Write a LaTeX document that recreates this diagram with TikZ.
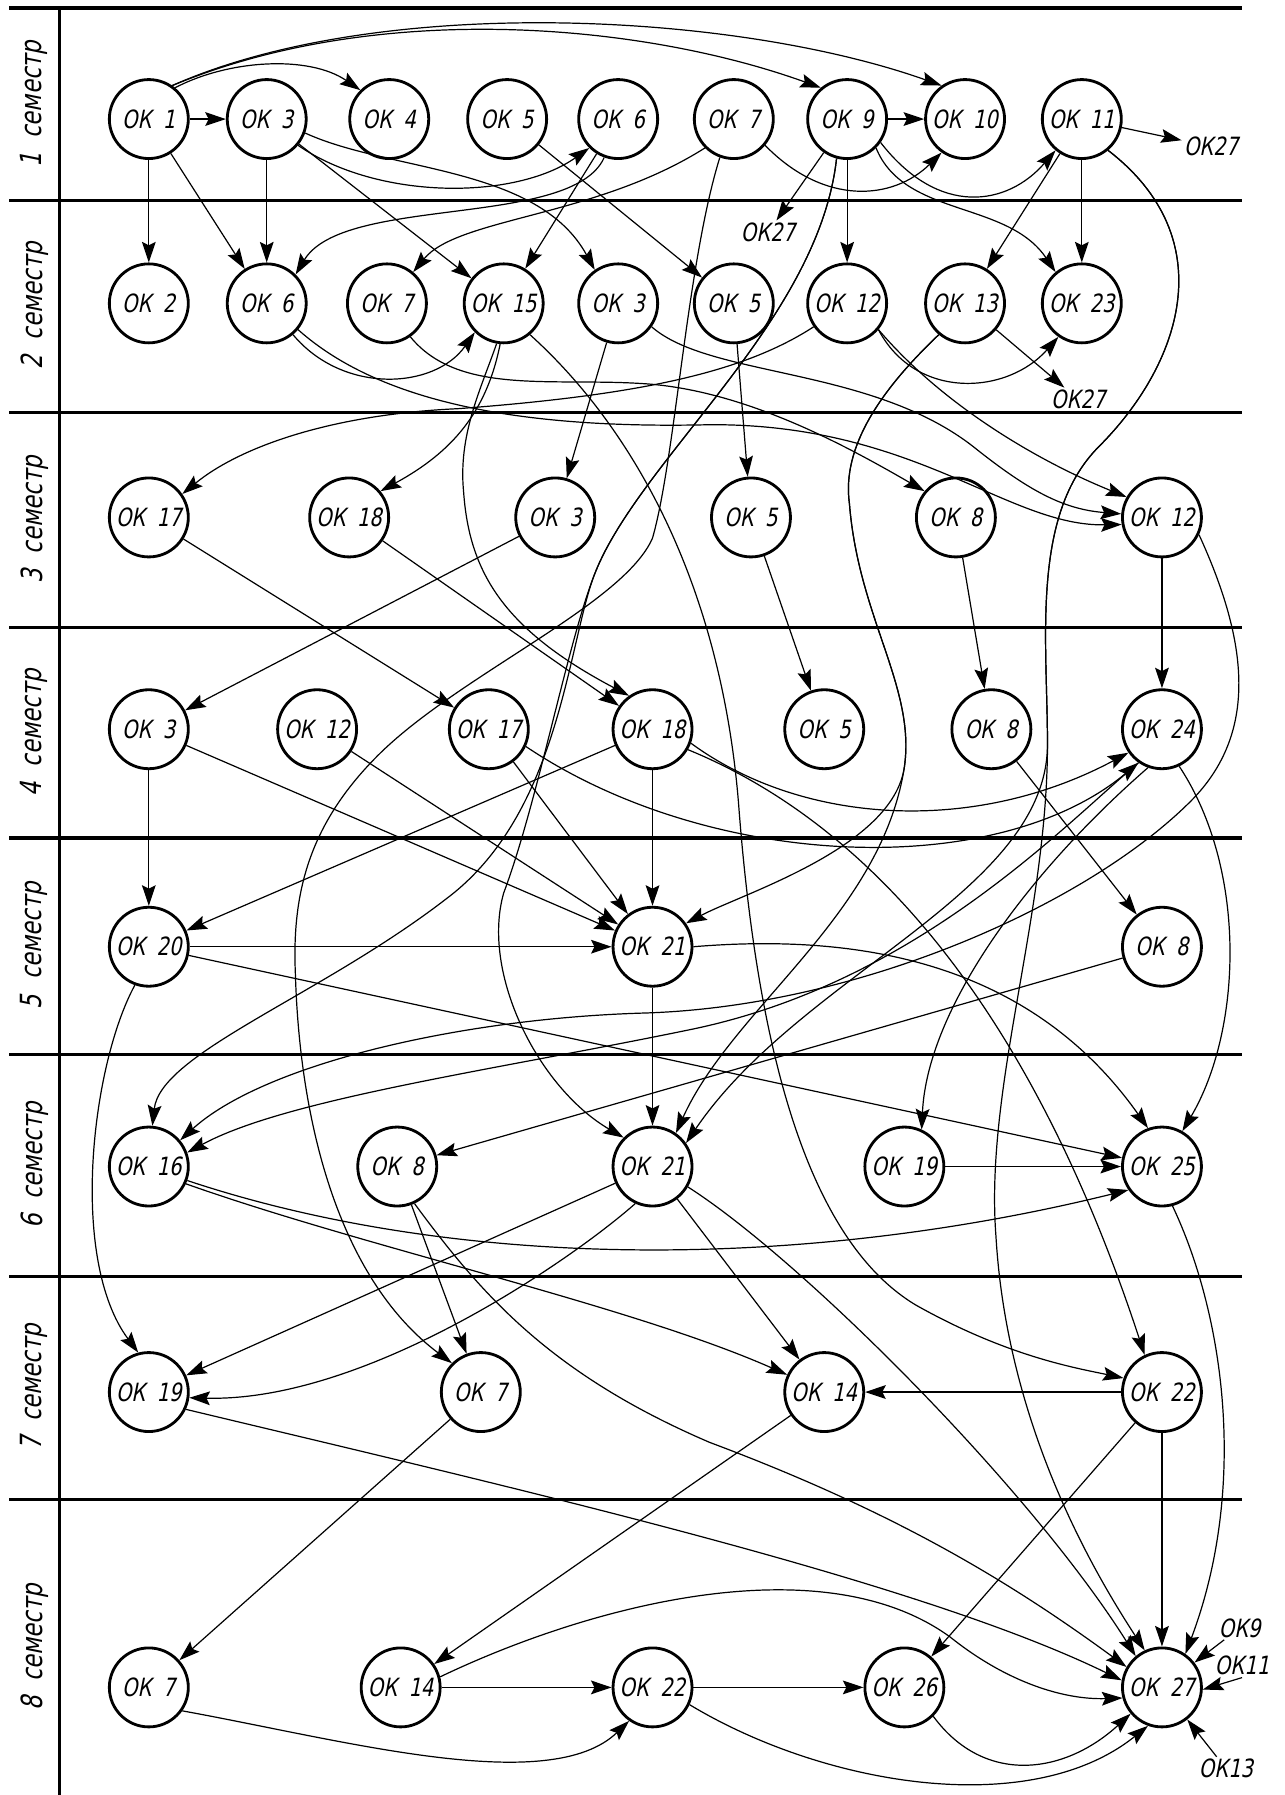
\documentclass[tikz,border=0pt]{standalone}
\usepackage{fontspec}
\setmainfont{DejaVu Sans}[FakeSlant=0.2,FakeStretch=0.78]
\usepackage{tikz}
\usetikzlibrary{
	arrows.meta,
	positioning,
	calc
}

\tikzset{
	okn/.style={circle, draw, line width=1.4pt, minimum size=1.38cm, inner sep=0pt,
		font=\fontsize{12.5}{14}\selectfont},
	okt/.style={inner sep=1pt, font=\fontsize{12.5}{14}\selectfont},
	lnk/.style={-{Stealth[length=3.6mm,width=2.4mm,inset=0.6mm]}, line width=0.6pt},
	sepline/.style={line width=1.6pt},
	semlbl/.style={rotate=90, font=\fontsize{14.5}{16}\selectfont}
}
\newcommand{\ok}[1]{ОК\hspace{0.45em}#1}

\begin{document}
\begin{tikzpicture}[x=0.02cm, y=-0.02cm]
	
	\useasboundingbox (0,0) rectangle (1122,1568);
	
	% table frame
	\foreach \yy in {7,175,360,548,732,921,1115,1310}
	\draw[sepline] (8,\yy) -- (1085,\yy);
	\draw[sepline] (52,7) -- (52,1568);
	
	\foreach \sem/\yy in {1/91,2/267,3/454,4/640,5/826,6/1018,7/1212,8/1439}
	\node[semlbl] (sem\sem) at (30,\yy) {\sem\hspace{0.5em}семестр};
	
	% semester 1
	\node[okn] (s1ok1) at (130,104) {\ok{1}};
	\node[okn] (s1ok3) at (233,104) {\ok{3}};
	\node[okn] (s1ok4) at (340,104) {\ok{4}};
	\node[okn] (s1ok5) at (443,104) {\ok{5}};
	\node[okn] (s1ok6) at (540,104) {\ok{6}};
	\node[okn] (s1ok7) at (641,104) {\ok{7}};
	\node[okn] (s1ok9) at (740,104) {\ok{9}};
	\node[okn] (s1ok10) at (843,104) {\ok{10}};
	\node[okn] (s1ok11) at (945,104) {\ok{11}};
	\node[okt] (l27a) at (671,203) {ОК27};
	\node[okt] (l27b) at (1058,128) {ОК27};
	
	% semester 2
	\node[okn] (s2ok2) at (130,265) {\ok{2}};
	\node[okn] (s2ok6) at (233,265) {\ok{6}};
	\node[okn] (s2ok7) at (338,265) {\ok{7}};
	\node[okn] (s2ok15) at (440,265) {\ok{15}};
	\node[okn] (s2ok3) at (540,265) {\ok{3}};
	\node[okn] (s2ok5) at (641,265) {\ok{5}};
	\node[okn] (s2ok12) at (740,265) {\ok{12}};
	\node[okn] (s2ok13) at (843,265) {\ok{13}};
	\node[okn] (s2ok23) at (945,265) {\ok{23}};
	\node[okt] (l27c) at (942,349) {ОК27};
	
	% semester 3
	\node[okn] (s3ok17) at (130,452) {\ok{17}};
	\node[okn] (s3ok18) at (305,452) {\ok{18}};
	\node[okn] (s3ok3) at (485,452) {\ok{3}};
	\node[okn] (s3ok5) at (656,452) {\ok{5}};
	\node[okn] (s3ok8) at (835,452) {\ok{8}};
	\node[okn] (s3ok12) at (1015,452) {\ok{12}};
	
	% semester 4
	\node[okn] (s4ok3) at (130,637) {\ok{3}};
	\node[okn] (s4ok12) at (277,637) {\ok{12}};
	\node[okn] (s4ok17) at (427,637) {\ok{17}};
	\node[okn] (s4ok18) at (570,637) {\ok{18}};
	\node[okn] (s4ok5) at (720,637) {\ok{5}};
	\node[okn] (s4ok8) at (866,637) {\ok{8}};
	\node[okn] (s4ok24) at (1015,637) {\ok{24}};
	
	% semester 5
	\node[okn] (s5ok20) at (130,827) {\ok{20}};
	\node[okn] (s5ok21) at (570,827) {\ok{21}};
	\node[okn] (s5ok8) at (1015,827) {\ok{8}};
	
	% semester 6
	\node[okn] (s6ok16) at (130,1019) {\ok{16}};
	\node[okn] (s6ok8) at (347,1019) {\ok{8}};
	\node[okn] (s6ok21) at (570,1019) {\ok{21}};
	\node[okn] (s6ok19) at (790,1019) {\ok{19}};
	\node[okn] (s6ok25) at (1015,1019) {\ok{25}};
	
	% semester 7
	\node[okn] (s7ok19) at (130,1216) {\ok{19}};
	\node[okn] (s7ok7) at (420,1216) {\ok{7}};
	\node[okn] (s7ok14) at (720,1216) {\ok{14}};
	\node[okn] (s7ok22) at (1015,1216) {\ok{22}};
	
	% semester 8
	\node[okn] (s8ok7) at (130,1474) {\ok{7}};
	\node[okn] (s8ok14) at (350,1474) {\ok{14}};
	\node[okn] (s8ok22) at (570,1474) {\ok{22}};
	\node[okn] (s8ok26) at (790,1474) {\ok{26}};
	\node[okn] (s8ok27) at (1015,1474) {\ok{27}};
	\node[okt] (l9) at (1083,1422) {ОК9};
	\node[okt] (l11) at (1085,1455) {ОК11};
	\node[okt] (l13) at (1071,1545) {ОК13};
	
	% links from semester 1
	\draw[lnk] (s1ok1) -- (s1ok3);
	\draw[lnk] (s1ok1.50) .. controls (200,52) and (270,48) .. (s1ok4.135);
	\draw[lnk] (s1ok1.55) .. controls (330,0) and (560,20) .. (s1ok9.130);
	\draw[lnk] (s1ok1.55) .. controls (330,-5) and (640,10) .. (s1ok10.125);
	\draw[lnk] (s1ok1) -- (s2ok2);
	\draw[lnk] (s1ok1) -- (s2ok6);
	\draw[lnk] (s1ok3) -- (s2ok6);
	\draw[lnk] (s1ok3) -- (s2ok15);
	\draw[lnk] (s1ok3.-40) .. controls (330,175) and (450,175) .. (s1ok6.-135);
	\draw[lnk] (s1ok3.-20) .. controls (340,150) and (470,145) .. (s2ok3.125);
	\draw[lnk] (s1ok5) -- (s2ok5);
	\draw[lnk] (s1ok6) -- (s2ok15);
	\draw[lnk] (s1ok6.-110) .. controls (500,200) and (300,170) .. (s2ok6.45);
	\draw[lnk] (s1ok7.-135) .. controls (520,190) and (400,190) .. (s2ok7.50);
	\draw[lnk] (s1ok7.-40) .. controls (720,180) and (780,175) .. (s1ok10.-125);
	\draw[lnk] (s1ok7.-110)
	.. controls (600,230) and (590,400) .. (570,470)
	.. controls (545,528) and (400,590) .. (330,660)
	.. controls (270,720) and (255,780) .. (258,850)
	.. controls (262,990) and (300,1120) .. (s7ok7.135);
	\draw[lnk] (s1ok9) -- (s1ok10);
	\draw[lnk] (s1ok9) -- (l27a);
	\draw[lnk] (s1ok9) -- (s2ok12);
	\draw[lnk] (s1ok9.-45) .. controls (790,190) and (880,175) .. (s2ok23.130);
	\draw[lnk] (s1ok9.-35) .. controls (820,190) and (880,180) .. (s1ok11.-130);
	\draw[lnk] (s1ok9.-105)
	.. controls (715,280) and (560,400) .. (520,500)
	.. controls (496,560) and (490,710) .. (390,785)
	.. controls (280,870) and (140,920) .. (s6ok16.85);
	\draw[lnk] (s1ok9.-105)
	.. controls (715,280) and (560,400) .. (520,500)
	.. controls (496,560) and (470,700) .. (440,780)
	.. controls (420,850) and (470,950) .. (s6ok21.135);
	\draw[lnk] (s1ok11) -- (l27b);
	\draw[lnk] (s1ok11) -- (s2ok13);
	\draw[lnk] (s1ok11) -- (s2ok23);
	\draw[lnk] (s1ok11.-50)
	.. controls (1070,210) and (1030,320) .. (960,390)
	.. controls (900,450) and (915,560) .. (915,650)
	.. controls (915,780) and (700,850) .. (s6ok21.35);
	\draw[lnk] (s1ok11.-50)
	.. controls (1070,210) and (1030,320) .. (960,390)
	.. controls (900,450) and (915,560) .. (915,650)
	.. controls (915,800) and (860,950) .. (870,1080)
	.. controls (880,1250) and (960,1380) .. (s8ok27.115);
	
	% links from semester 2
	\draw[lnk] (s2ok6.-50) .. controls (300,345) and (380,340) .. (s2ok15.-135);
	\draw[lnk] (s2ok6.-40)
	.. controls (330,350) and (450,375) .. (620,371)
	.. controls (800,370) and (880,460) .. (s3ok12.-170);
	\draw[lnk] (s2ok7.-55)
	.. controls (400,345) and (480,330) .. (560,335)
	.. controls (650,340) and (740,390) .. (s3ok8.140);
	\draw[lnk] (s2ok15.-95) .. controls (425,360) and (395,395) .. (s3ok18.40);
	\draw[lnk] (s2ok15.-100)
	.. controls (420,340) and (400,380) .. (405,430)
	.. controls (410,500) and (440,550) .. (s4ok18.125);
	\draw[lnk] (s2ok15.-50)
	.. controls (560,380) and (630,520) .. (645,700)
	.. controls (660,900) and (700,1080) .. (800,1140)
	.. controls (880,1185) and (940,1195) .. (s7ok22.160);
	\draw[lnk] (s2ok3) -- (s3ok3);
	\draw[lnk] (s2ok3.-35)
	.. controls (620,330) and (760,320) .. (850,390)
	.. controls (900,430) and (930,445) .. (s3ok12.175);
	\draw[lnk] (s2ok5) -- (s3ok5);
	\draw[lnk] (s2ok12.-145)
	.. controls (650,325) and (560,345) .. (400,357)
	.. controls (290,362) and (210,390) .. (s3ok17.35);
	\draw[lnk] (s2ok12.-40) .. controls (800,350) and (880,345) .. (s2ok23.-125);
	\draw[lnk] (s2ok12.-40) .. controls (820,350) and (900,400) .. (s3ok12.150);
	\draw[lnk] (s2ok13) -- (l27c);
	\draw[lnk] (s2ok13.-130)
	.. controls (770,340) and (735,390) .. (742,440)
	.. controls (750,540) and (800,600) .. (790,670)
	.. controls (780,740) and (650,780) .. (s5ok21.35);
	\draw[lnk] (s2ok13.-130)
	.. controls (770,340) and (735,390) .. (742,440)
	.. controls (750,540) and (800,600) .. (790,670)
	.. controls (770,800) and (640,880) .. (s6ok21.55);
	
	% links from semester 3
	\draw[lnk] (s3ok17) -- (s4ok17);
	\draw[lnk] (s3ok18) -- (s4ok18);
	\draw[lnk] (s3ok3) -- (s4ok3);
	\draw[lnk] (s3ok5) -- (s4ok5);
	\draw[lnk] (s3ok8) -- (s4ok8);
	\draw[lnk] (s3ok12) -- (s4ok24);
	\draw[lnk] (s3ok12.-25)
	.. controls (1090,560) and (1100,640) .. (1040,700)
	.. controls (950,790) and (750,880) .. (560,885)
	.. controls (400,890) and (230,930) .. (s6ok16.40);
	
	% links from semester 4
	\draw[lnk] (s4ok3) -- (s5ok20);
	\draw[lnk] (s4ok3) -- (s5ok21);
	\draw[lnk] (s4ok12) -- (s5ok21);
	\draw[lnk] (s4ok17) -- (s5ok21);
	\draw[lnk] (s4ok17.-25) .. controls (620,760) and (870,770) .. (s4ok24.-125);
	\draw[lnk] (s4ok18) -- (s5ok21);
	\draw[lnk] (s4ok18) -- (s5ok20);
	\draw[lnk] (s4ok18.-20) .. controls (700,720) and (850,730) .. (s4ok24.-145);
	\draw[lnk] (s4ok18.-30) .. controls (760,720) and (900,880) .. (s7ok22.115);
	\draw[lnk] (s4ok8) -- (s5ok8);
	\draw[lnk] (s4ok24.-110) .. controls (900,760) and (810,880) .. (s6ok19.65);
	\draw[lnk] (s4ok24.-125)
	.. controls (930,720) and (800,860) .. (600,900)
	.. controls (430,935) and (250,960) .. (s6ok16.20);
	\draw[lnk] (s4ok24.-65) .. controls (1090,760) and (1085,900) .. (s6ok25.60);
	
	% links from semester 5
	\draw[lnk] (s5ok20) -- (s5ok21);
	\draw[lnk] (s5ok20) -- (s6ok25);
	\draw[lnk] (s5ok20.-110) .. controls (80,930) and (60,1100) .. (s7ok19.105);
	\draw[lnk] (s5ok21) -- (s6ok21);
	\draw[lnk] (s5ok21.0) .. controls (750,815) and (900,840) .. (s6ok25.110);
	\draw[lnk] (s5ok8) -- (s6ok8);
	
	% links from semester 6
	\draw[lnk] (s6ok16.-20) .. controls (400,1110) and (700,1110) .. (s6ok25.-145);
	\draw[lnk] (s6ok16.-25) .. controls (320,1090) and (550,1140) .. (s7ok14.155);
	\draw[lnk] (s6ok8) -- (s7ok7);
	\draw[lnk] (s6ok8.-65)
	.. controls (420,1130) and (480,1200) .. (620,1260)
	.. controls (780,1320) and (880,1380) .. (s8ok27.150);
	\draw[lnk] (s6ok21) -- (s7ok19);
	\draw[lnk] (s6ok21.-115) .. controls (500,1100) and (320,1225) .. (s7ok19.-8);
	\draw[lnk] (s6ok21) -- (s7ok14);
	\draw[lnk] (s6ok21.-30) .. controls (700,1100) and (900,1300) .. (s8ok27.130);
	\draw[lnk] (s6ok19) -- (s6ok25);
	\draw[lnk] (s6ok25.-75) .. controls (1070,1150) and (1090,1300) .. (s8ok27.55);
	
	% links from semester 7
	\draw[lnk] (s7ok19.-25) .. controls (450,1300) and (800,1380) .. (s8ok27.170);
	\draw[lnk] (s7ok7) -- (s8ok7);
	\draw[lnk] (s7ok14) -- (s8ok14);
	\draw[lnk] (s7ok22) -- (s7ok14);
	\draw[lnk] (s7ok22) -- (s8ok26);
	\draw[lnk] (s7ok22) -- (s8ok27);
	
	% links from semester 8
	\draw[lnk] (s8ok7.-35) .. controls (300,1520) and (480,1570) .. (s8ok22.-125);
	\draw[lnk] (s8ok14) -- (s8ok22);
	\draw[lnk] (s8ok14.15)
	.. controls (520,1400) and (720,1350) .. (830,1430)
	.. controls (880,1470) and (930,1485) .. (s8ok27.-165);
	\draw[lnk] (s8ok22) -- (s8ok26);
	\draw[lnk] (s8ok22.-25) .. controls (720,1560) and (900,1590) .. (s8ok27.-110);
	\draw[lnk] (s8ok26.-45) .. controls (860,1560) and (930,1550) .. (s8ok27.-140);
	\draw[lnk] (l9) -- (s8ok27);
	\draw[lnk] (l11.south) -- (s8ok27.-3);
	\draw[lnk] (l13) -- (s8ok27);
	
\end{tikzpicture}
\end{document}
